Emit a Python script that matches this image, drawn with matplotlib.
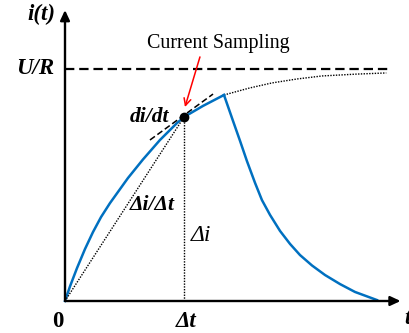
import matplotlib.pyplot as plt

plt.rcParams['font.family'] = ['Liberation Serif', 'DejaVu Serif']

# charging curve (t in units of delta t, i in units of U/R)
t_rise = [0.0, 0.042, 0.101, 0.168, 0.235, 0.303, 0.378, 0.529, 0.655,
          0.798, 0.941, 1.0, 1.16, 1.336]
i_rise = [0.0, 0.063, 0.142, 0.224, 0.297, 0.362, 0.422, 0.530, 0.610,
          0.694, 0.767, 0.793, 0.841, 0.888]

# decay after the peak
t_fall = [1.336, 1.412, 1.471, 1.529, 1.597, 1.655, 1.723, 1.807, 1.891,
          1.975, 2.076, 2.185, 2.311, 2.437, 2.622]
i_fall = [0.888, 0.776, 0.690, 0.603, 0.509, 0.435, 0.371, 0.302, 0.246,
          0.198, 0.153, 0.112, 0.073, 0.039, 0.004]

# dotted continuation of the charging curve
t_cont = [1.336, 1.55, 1.74, 1.95, 2.16, 2.45, 2.70]
i_cont = [0.888, 0.918, 0.940, 0.957, 0.970, 0.978, 0.983]

# sampling point and tangent
t_s, i_s = 1.0, 0.793
t_tan = [0.714, 1.244]
i_tan = [0.694, 0.892]

u_r = 1.0
t_end = 2.73

blue = '#0070C0'

fig = plt.figure(figsize=(4.1, 3.33), dpi=100)
ax = fig.add_axes([0, 0, 1, 1])
ax.set_xlim(-65 / 119, 345 / 119)
ax.set_ylim(-32 / 232, 301 / 232)
ax.axis('off')

# axes with arrows
ax.annotate('', xy=(0, 1.254), xytext=(0, 0),
            arrowprops=dict(arrowstyle='-|>,head_length=0.6,head_width=0.28',
                            lw=1.7, color='black', shrinkA=0, shrinkB=0))
ax.annotate('', xy=(2.82, 0), xytext=(0, 0),
            arrowprops=dict(arrowstyle='-|>,head_length=0.6,head_width=0.28',
                            lw=1.7, color='black', shrinkA=0, shrinkB=0))

# U/R asymptote
ax.plot([0, t_end], [u_r, u_r], color='black', lw=1.6, dashes=(4.2, 2.2))

# curves
ax.plot(t_cont, i_cont, color='black', lw=1.0, linestyle=(0, (1, 1)))
ax.plot(t_rise, i_rise, color=blue, lw=1.8, solid_joinstyle='round')
ax.plot(t_fall, i_fall, color=blue, lw=1.8, solid_joinstyle='round')

# chord, vertical, tangent
ax.plot([0, t_s], [0, i_s], color='black', lw=1.0, linestyle=(0, (1, 1)))
ax.plot([t_s, t_s], [0, i_s], color='black', lw=1.0, linestyle=(0, (1, 1)))
ax.plot(t_tan, i_tan, color='black', lw=1.1, dashes=(4, 2))
ax.plot([t_s], [i_s], 'o', color='black', markersize=6)

# labels
bi = dict(fontsize=16.5, fontweight='bold', fontstyle='italic', ha='center', va='center')
ax.text(-0.2, 1.233, 'i(t)', **bi)
ax.text(-0.252, 1.0, 'U/R', **bi)
ax.text(0.714, 0.793, 'di/dt', fontsize=15.5, fontweight='bold', fontstyle='italic',
        ha='center', va='center')
ax.text(0.731, 0.414, 'Δi/Δt', fontsize=15.5, fontweight='bold', fontstyle='italic',
        ha='center', va='center')
ax.text(1.017, -0.09, 'Δt', **bi)
ax.text(2.875, -0.075, 't', **bi)
ax.text(-0.059, -0.09, '0', fontsize=16.5, fontweight='bold', ha='center', va='center')
ax.text(1.143, 0.284, 'Δi', fontsize=17, fontstyle='italic', ha='center', va='center')
ax.text(1.286, 1.112, 'Current Sampling', fontsize=14.4, ha='center', va='center')

ax.annotate('', xy=(1.008, 0.836), xytext=(1.134, 1.052),
            arrowprops=dict(arrowstyle='->,head_length=0.5,head_width=0.25',
                            lw=1.1, color='red', shrinkA=0, shrinkB=0))

fig.savefig('out.png', dpi=100)
